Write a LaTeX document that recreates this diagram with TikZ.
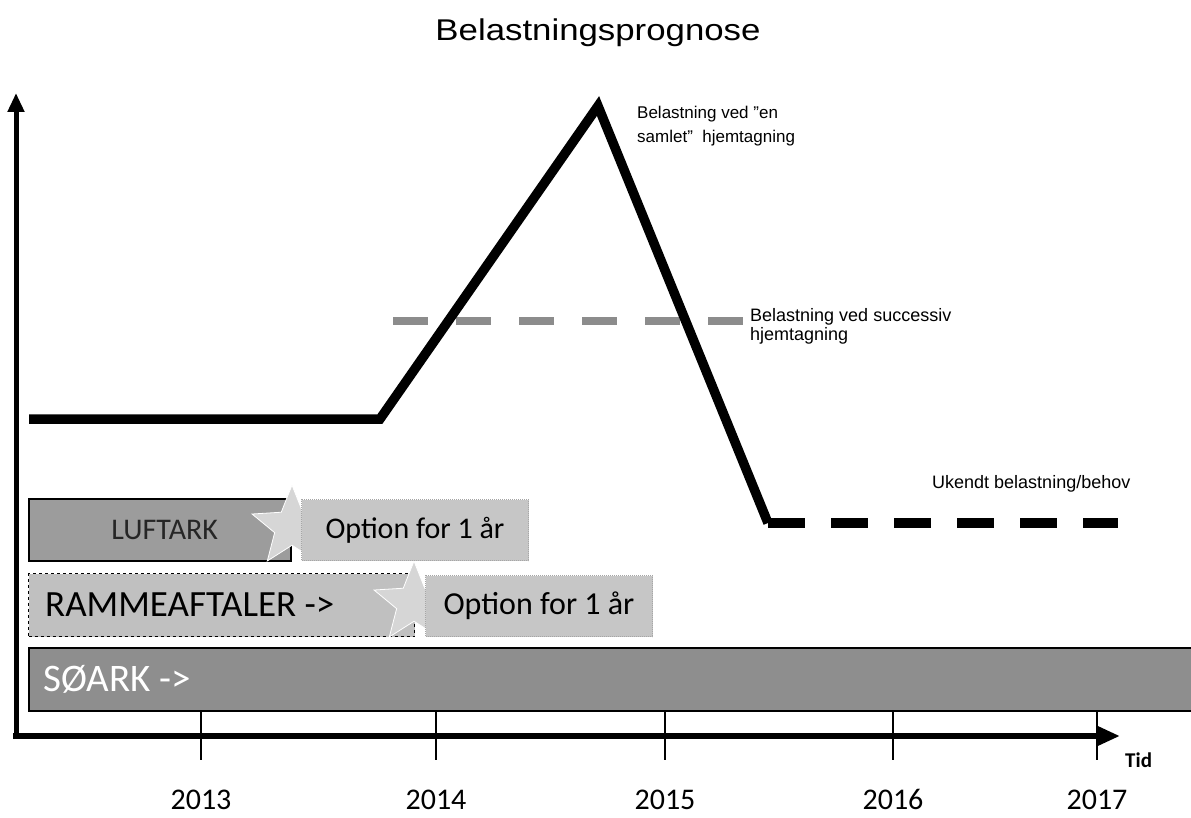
\documentclass[tikz,border=0pt]{standalone}
\usepackage{fontspec}
\setmainfont{Liberation Sans}
\newfontfamily\calib{Carlito}
\usetikzlibrary{shapes.geometric,arrows.meta}
\definecolor{lufgray}{HTML}{9C9C9C}
\definecolor{optgray}{HTML}{C6C6C6}
\definecolor{ramgray}{HTML}{C0C0C0}
\definecolor{soegray}{HTML}{8E8E8E}
\definecolor{stargray}{HTML}{D6D6D6}
\definecolor{dashgray}{HTML}{8C8C8C}
\begin{document}
\begin{tikzpicture}[x=1pt,y=-1pt,
  barbox/.style={anchor=north west, inner sep=0pt},
  solidbox/.style={barbox, draw=black, line width=1.5pt},
  optbox/.style={barbox, fill=optgray, draw=gray!70, densely dotted, line width=1pt,
     minimum width=227pt, minimum height=61pt, font=\calib\fontsize{30}{36}\selectfont},
  starshape/.style={star, star points=5, star point ratio=2.3, minimum size=84pt,
     inner sep=0pt, fill=stargray, draw=white, line width=0.8pt},
  curve/.style={line width=9.5pt, black},
  note/.style={anchor=north west, inner sep=0pt, align=left},
  yearlabel/.style={anchor=base, inner sep=0pt, text depth=0pt, font=\calib\fontsize{30}{36}\selectfont},
  tickline/.style={line width=1.3pt, black}
]
\useasboundingbox (0,0) rectangle (1191,818);

% title
\node[anchor=base, inner sep=0pt, xscale=1.16, font=\fontsize{30}{34}\selectfont] (title) at (598,41) {Belastningsprognose};

% bars
\node[solidbox, fill=soegray, minimum width=1180pt, minimum height=63pt] (soark) at (28,647) {};
\node[anchor=west, inner sep=0pt, text=white, font=\calib\fontsize{39}{46}\selectfont] (soarktext) at ([xshift=15pt]soark.west) {SØARK ->};

\node[barbox, fill=ramgray, draw=black, dashed, line width=1pt, minimum width=386pt, minimum height=63pt] (ramme) at (28,573) {};
\node[anchor=west, inner sep=0pt, font=\calib\fontsize{37}{44}\selectfont] (rammetext) at ([xshift=17pt]ramme.west) {RAMMEAFTALER ->};
\node[starshape] (star2) at (414,603) {};
\node[optbox, font=\calib\fontsize{32}{38}\selectfont] (opt2) at (425,575) {Option for 1 år};

\node[solidbox, fill=lufgray, minimum width=262pt, minimum height=62pt, text=black!85, font=\calib\fontsize{30}{36}\selectfont] (luftark) at (28,498) {\hspace{10pt}LUFTARK};
\node[starshape] (star1) at (292,527) {};
\node[optbox] (opt1) at (301,499) {Option for 1 år};

% axes
\coordinate (ybot) at (16,739);
\coordinate (ytop) at (16,93);
\coordinate (xleft) at (13,736);
\coordinate (xright) at (1120,736);
\draw[line width=5pt, -{Triangle[width=16pt,length=19pt]}] (ybot) -- (ytop);
\draw[line width=6pt, -{Triangle[width=18pt,length=22pt]}] (xleft) -- (xright);

% ticks and years
\foreach \x/\yr in {201/2013, 436/2014, 665/2015, 893/2016, 1097/2017}{
  \coordinate (t\yr a) at (\x,712);
  \coordinate (t\yr b) at (\x,760);
  \draw[tickline] (t\yr a) -- (t\yr b);
  \node[yearlabel] (y\yr) at (\x,809) {\yr};
}
\node[anchor=north west, inner sep=0pt, font=\calib\bfseries\fontsize{21}{24}\selectfont] (tid) at (1125,753) {Tid};

% gray dashed (successive)
\coordinate (g1) at (393,321);
\coordinate (g2) at (746,321);
\draw[line width=8pt, dashgray, dash pattern=on 35pt off 28pt] (g1) -- (g2);

% main curve
\coordinate (c1) at (29,419);
\coordinate (c2) at (380,419);
\coordinate (c3) at (598,106);
\coordinate (c4) at (768,523);
\coordinate (c5) at (1118,523);
\draw[curve, line join=miter] (c1) -- (c2) -- (c3) -- (c4);
\draw[curve, dash pattern=on 37pt off 26pt] (c4) -- (c5);

% notes
\node[note, font=\fontsize{17}{24}\selectfont] (note1) at (637,106) {Belastning ved "en\\samlet"\ \ hjemtagning};
\node[note, font=\fontsize{18}{19}\selectfont] (note2) at (750,308) {Belastning ved successiv\\hjemtagning};
\node[note, font=\fontsize{18}{22}\selectfont] (note3) at (932,475) {Ukendt belastning/behov};
\end{tikzpicture}
\end{document}
